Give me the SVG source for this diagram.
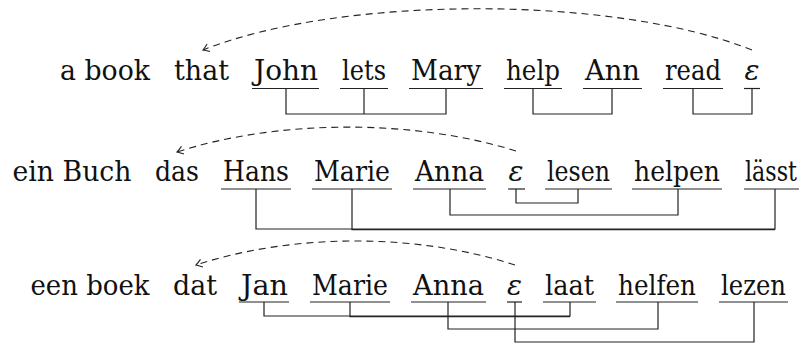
<svg xmlns="http://www.w3.org/2000/svg" width="806" height="343" viewBox="0 0 806 343">
<defs>
<style>
text{font-family:'DejaVu Serif','Liberation Serif',serif;font-size:28px;fill:#111;text-anchor:middle}
text.eps{font-style:italic}
.ul{stroke:#222;stroke-width:1.2;fill:none}
.br{stroke:#222;stroke-width:1.2;fill:none}
.arc{stroke:#222;stroke-width:1.1;fill:none;stroke-dasharray:7 5;marker-end:url(#tip)}
</style>
<marker id="tip" markerUnits="userSpaceOnUse" markerWidth="12" markerHeight="12" refX="0" refY="0" viewBox="-8 -6 10 12" orient="auto">
<path d="M-6,-4 Q-2,-1 0,0 Q-2,1 -6,4" fill="none" stroke="#222" stroke-width="1.1"/>
</marker>
</defs>
<rect width="806" height="343" fill="#fff"/>
<g>
<!-- Row 1: English -->
<g id="en-abook"><text x="105" y="80" textLength="90" lengthAdjust="spacingAndGlyphs">a book</text></g>
<g id="en-that"><text x="201.5" y="80" textLength="55" lengthAdjust="spacingAndGlyphs">that</text></g>
<g id="en-john"><text x="286" y="80" textLength="64" lengthAdjust="spacingAndGlyphs">John</text><line class="ul" x1="252" y1="88.5" x2="319" y2="88.5"/></g>
<g id="en-lets"><text x="364" y="80" textLength="44" lengthAdjust="spacingAndGlyphs">lets</text><line class="ul" x1="340" y1="88.5" x2="388" y2="88.5"/></g>
<g id="en-mary"><text x="446" y="80" textLength="70" lengthAdjust="spacingAndGlyphs">Mary</text><line class="ul" x1="409" y1="88.5" x2="483" y2="88.5"/></g>
<g id="en-help"><text x="533" y="80" textLength="54" lengthAdjust="spacingAndGlyphs">help</text><line class="ul" x1="504" y1="88.5" x2="562" y2="88.5"/></g>
<g id="en-ann"><text x="612.5" y="80" textLength="55" lengthAdjust="spacingAndGlyphs">Ann</text><line class="ul" x1="583" y1="88.5" x2="642" y2="88.5"/></g>
<g id="en-read"><text x="693" y="80" textLength="56" lengthAdjust="spacingAndGlyphs">read</text><line class="ul" x1="663" y1="88.5" x2="723" y2="88.5"/></g>
<g id="en-eps"><text class="eps" x="752" y="80">ε</text><line class="ul" x1="744" y1="88.5" x2="760" y2="88.5"/></g>

<!-- Row 2: German -->
<g id="de-einbuch"><text x="72" y="180.5" textLength="119" lengthAdjust="spacingAndGlyphs">ein Buch</text></g>
<g id="de-das"><text x="177" y="180.5" textLength="44" lengthAdjust="spacingAndGlyphs">das</text></g>
<g id="de-hans"><text x="256" y="180.5" textLength="66" lengthAdjust="spacingAndGlyphs">Hans</text><line class="ul" x1="221" y1="189" x2="291" y2="189"/></g>
<g id="de-marie"><text x="352" y="180.5" textLength="76" lengthAdjust="spacingAndGlyphs">Marie</text><line class="ul" x1="312" y1="189" x2="392" y2="189"/></g>
<g id="de-anna"><text x="449.5" y="180.5" textLength="69" lengthAdjust="spacingAndGlyphs">Anna</text><line class="ul" x1="413" y1="189" x2="486" y2="189"/></g>
<g id="de-eps"><text class="eps" x="516" y="180.5">ε</text><line class="ul" x1="508" y1="189" x2="525" y2="189"/></g>
<g id="de-lesen"><text x="578.5" y="180.5" textLength="63" lengthAdjust="spacingAndGlyphs">lesen</text><line class="ul" x1="545" y1="189" x2="612" y2="189"/></g>
<g id="de-helpen"><text x="677" y="180.5" textLength="86" lengthAdjust="spacingAndGlyphs">helpen</text><line class="ul" x1="632" y1="189" x2="722" y2="189"/></g>
<g id="de-laesst"><text x="771" y="180.5" textLength="52" lengthAdjust="spacingAndGlyphs">lässt</text><line class="ul" x1="744" y1="189" x2="799" y2="189"/></g>

<!-- Row 3: Dutch -->
<g id="nl-eenboek"><text x="90" y="294.5" textLength="119" lengthAdjust="spacingAndGlyphs">een boek</text></g>
<g id="nl-dat"><text x="195" y="294.5" textLength="44" lengthAdjust="spacingAndGlyphs">dat</text></g>
<g id="nl-jan"><text x="264.5" y="294.5" textLength="47" lengthAdjust="spacingAndGlyphs">Jan</text><line class="ul" x1="239" y1="302" x2="289" y2="302"/></g>
<g id="nl-marie"><text x="350" y="294.5" textLength="76" lengthAdjust="spacingAndGlyphs">Marie</text><line class="ul" x1="310" y1="302" x2="390" y2="302"/></g>
<g id="nl-anna"><text x="448.5" y="294.5" textLength="71" lengthAdjust="spacingAndGlyphs">Anna</text><line class="ul" x1="411" y1="302" x2="486" y2="302"/></g>
<g id="nl-eps"><text class="eps" x="514.5" y="294.5">ε</text><line class="ul" x1="507" y1="302" x2="522" y2="302"/></g>
<g id="nl-laat"><text x="569.5" y="294.5" textLength="49" lengthAdjust="spacingAndGlyphs">laat</text><line class="ul" x1="543" y1="302" x2="596" y2="302"/></g>
<g id="nl-helfen"><text x="657" y="294.5" textLength="78" lengthAdjust="spacingAndGlyphs">helfen</text><line class="ul" x1="616" y1="302" x2="698" y2="302"/></g>
<g id="nl-lezen"><text x="753.5" y="294.5" textLength="65" lengthAdjust="spacingAndGlyphs">lezen</text><line class="ul" x1="719" y1="302" x2="788" y2="302"/></g>
</g>
<g id="connectors">
<!-- Row 1 -->
<path class="br" d="M286,88.5 V114 H446 V88.5"/>
<path class="br" d="M364,88.5 V114"/>
<path class="br" d="M533,88.5 V114 H612 V88.5"/>
<path class="br" d="M693,88.5 V114 H752 V88.5"/>
<path class="arc" d="M752,50 C614,-5 341,-5 203,50"/>
<!-- Row 2 -->
<path class="br" d="M256,189 V229 H775 V189"/>
<path class="br" d="M352,189 V229.6 H775"/>
<path class="br" d="M450,189 V215 H678 V189"/>
<path class="br" d="M516,189 V203 H578 V189"/>
<path class="arc" d="M516,151 C414,119 279,119 177,152"/>
<!-- Row 3 -->
<path class="br" d="M264,302 V316 H570 V302"/>
<path class="br" d="M350,302 V316.6 H570"/>
<path class="br" d="M448,302 V329 H658 V302"/>
<path class="br" d="M515,302 V342 H754 V302"/>
<path class="arc" d="M515,265 C417,233 294,233 196,265"/>
</g>
</svg>
